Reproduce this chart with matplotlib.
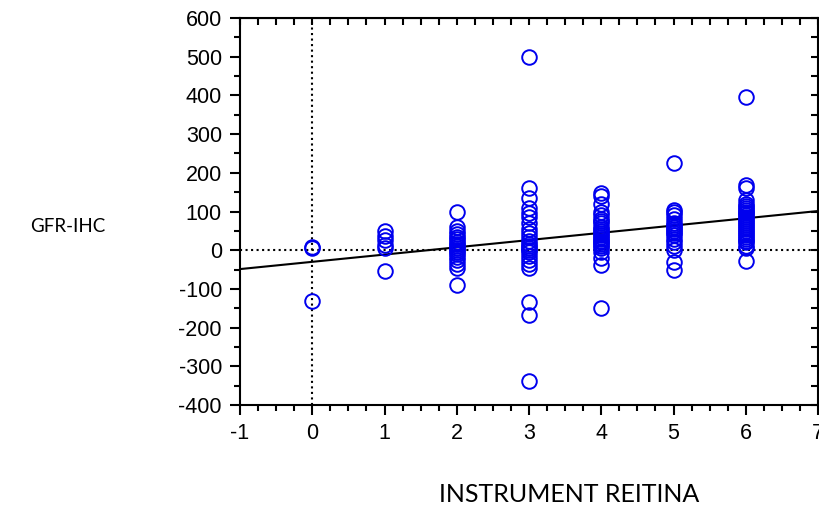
import numpy as np
import matplotlib
matplotlib.use("Agg")
import matplotlib.pyplot as plt
from matplotlib.ticker import MultipleLocator

plt.rcParams["axes.unicode_minus"] = False

# Puntajes del instrumento y diferencias GFR-IHC por grupo
x0 = [0, 0, 0]
y0 = [5, 9, -132]
x1 = [1] * 6
y1 = [50, 38, 26, 14, 5, -55]
y2 = [100, 60, 50, 42, 35, 28, 22, 15, 10, 5, 0, -5, -10, -18, -25, -35, -45, -90]
y3 = [500, 160, 135, 110, 95, 85, 70, 55, 45, 35, 25, 15, 10, 5, 0, -5, -15,
      -25, -35, -45, -133, -168, -338]
y4 = [148, 140, 120, 100, 90, 80, 75, 70, 60, 55, 50, 45, 40, 35, 30, 25, 20,
      15, 10, 5, -5, -20, -38, -150]
y5 = [225, 105, 100, 90, 80, 70, 65, 60, 55, 50, 45, 40, 30, 20, 10, 0, -30, -50]
y6 = [395, 168, 162, 130, 120, 115, 110, 105, 100, 95, 90, 85, 80, 75, 70, 65,
      60, 55, 50, 45, 40, 35, 30, 25, 20, 10, 5, -28]

# Recta de regresion
intercepto = -30
pendiente = 18.75

xs = x0 + x1 + [2] * len(y2) + [3] * len(y3) + [4] * len(y4) + [5] * len(y5) + [6] * len(y6)
ys = y0 + y1 + y2 + y3 + y4 + y5 + y6

fig = plt.figure(figsize=(8.20, 5.09), dpi=100)
ax = fig.add_axes([0.2927, 0.2043, 0.7049, 0.7603])

ax.axvline(0, color="black", linestyle=":", linewidth=1.5, zorder=1)
ax.axhline(0, color="black", linestyle=":", linewidth=1.5, zorder=1)

xl = np.array([-1, 7])
ax.plot(xl, intercepto + pendiente * xl, color="black", linewidth=1.5, zorder=2)

ax.plot(xs, ys, linestyle="none", marker="o", markersize=10.5, markerfacecolor="none",
        markeredgecolor="#0000ee", markeredgewidth=1.4, zorder=3)

ax.set_xlim(-1, 7)
ax.set_ylim(-400, 600)
ax.xaxis.set_major_locator(MultipleLocator(1))
ax.xaxis.set_minor_locator(MultipleLocator(0.25))
ax.yaxis.set_major_locator(MultipleLocator(100))
ax.yaxis.set_minor_locator(MultipleLocator(50))

for s in ax.spines.values():
    s.set_linewidth(1.5)

ax.tick_params(which="both", direction="out", width=1.5, labelsize=15.5,
               top=False, right=False)
ax.tick_params(which="major", length=7, pad=6)
ax.tick_params(which="minor", length=4)
for lab in ax.get_xticklabels() + ax.get_yticklabels():
    lab.set_family("Liberation Sans")

# marcas internas en los bordes superior y derecho
ax2 = ax.secondary_xaxis("top")
ax2.xaxis.set_major_locator(MultipleLocator(1))
ax2.xaxis.set_minor_locator(MultipleLocator(0.25))
ax2.tick_params(which="both", direction="in", width=1.5, labeltop=False)
ax2.tick_params(which="major", length=5)
ax2.tick_params(which="minor", length=5)
ay2 = ax.secondary_yaxis("right")
ay2.yaxis.set_major_locator(MultipleLocator(100))
ay2.yaxis.set_minor_locator(MultipleLocator(50))
ay2.tick_params(which="both", direction="in", width=1.5, labelright=False)
ay2.tick_params(which="major", length=5)
ay2.tick_params(which="minor", length=5)

fig.text(68 / 820, 1 - 227 / 509, "GFR-IHC", fontsize=13.5, family="Lato",
         ha="center", va="center")
fig.text(569 / 820, 1 - 494 / 509, "INSTRUMENT REITINA", fontsize=18, family="Lato",
         ha="center", va="center")

fig.savefig("out.png", dpi=100)
